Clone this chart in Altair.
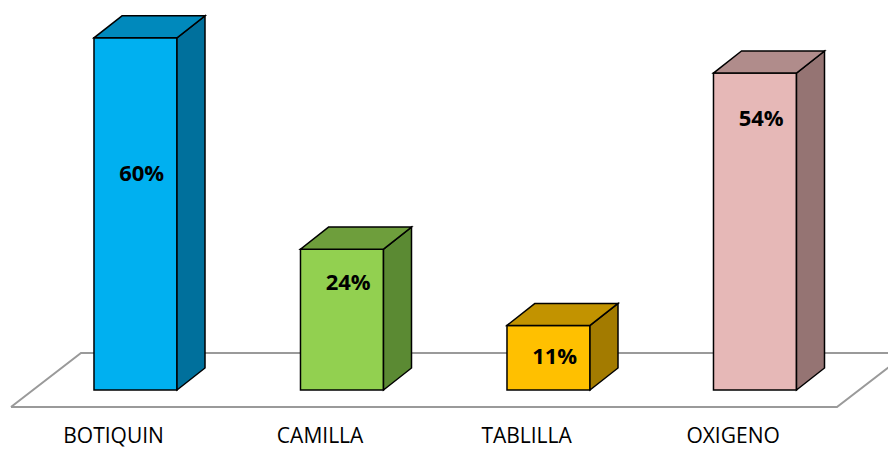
import altair as alt
import pandas as pd

categories = ["BOTIQUIN", "CAMILLA", "TABLILLA", "OXIGENO"]
values = [60, 24, 11, 54]
label_at = [36.8, 18.2, 5.6, 46.2]

front_colors = ["#00B0F0", "#92D050", "#FFC000", "#E6B8B7"]
side_colors = ["#00709C", "#5B8A33", "#A37B00", "#957473"]
top_colors = ["#0089BC", "#6E9E3C", "#C29300", "#B08C8B"]

W = 0.402   # front width (category units)
DX = 0.1356  # depth x
DY = 3.75    # depth y (value units)

front = pd.DataFrame({
    "cat": categories,
    "x": [i - W / 2 for i in range(4)],
    "x2": [i + W / 2 for i in range(4)],
    "y": [0] * 4,
    "y2": values,
})

side_rows, top_rows = [], []
for i, (c, v) in enumerate(zip(categories, values)):
    for t in (0, 1):
        side_rows.append({"cat": c, "x": i + W / 2 + t * DX, "lo": t * DY, "hi": v + t * DY})
        top_rows.append({"cat": c, "y": v + t * DY, "xl": i - W / 2 + t * DX, "xr": i + W / 2 + t * DX})
side = pd.DataFrame(side_rows)
top = pd.DataFrame(top_rows)

labels = pd.DataFrame({
    "cat": categories,
    "x": [i + 0.03 for i in range(4)],
    "y": label_at,
    "txt": [f"{v}%" for v in values],
})
cat_labels = pd.DataFrame({
    "cat": categories,
    "x": [i - 0.106 for i in range(4)],
    "y": [-8.0] * 4,
})
floor = pd.DataFrame({
    "x": [-0.603, -0.264, 3.736, 3.397, -0.603],
    "y": [-2.9, 6.3, 6.3, -2.9, -2.9],
    "o": [0, 1, 2, 3, 4],
})

xs = alt.Scale(domain=[-0.6174, 3.6441], nice=False, zero=False)
ys = alt.Scale(domain=[-8.688, 65.08], nice=False, zero=False)

def col(rng):
    return alt.Color("cat:N", scale=alt.Scale(domain=categories, range=rng), legend=None)

floor_l = alt.Chart(floor).mark_line(color="#9A9A9A", strokeWidth=2, clip=False).encode(
    x=alt.X("x:Q", scale=xs, axis=None),
    y=alt.Y("y:Q", scale=ys, axis=None),
    order="o:Q",
)

front_l = alt.Chart(front).mark_rect(stroke="black", strokeWidth=1.5).encode(
    x=alt.X("x:Q", scale=xs, axis=None), x2="x2:Q",
    y=alt.Y("y:Q", scale=ys, axis=None), y2="y2:Q",
    color=col(front_colors),
)

side_l = alt.Chart(side).mark_area(stroke="black", strokeWidth=1.5, opacity=1, orient="vertical").encode(
    x=alt.X("x:Q", scale=xs, axis=None),
    y=alt.Y("lo:Q", scale=ys, axis=None), y2="hi:Q",
    color=col(side_colors),
    detail="cat:N",
)

top_l = alt.Chart(top).mark_area(stroke="black", strokeWidth=1.5, opacity=1, orient="horizontal").encode(
    y=alt.Y("y:Q", scale=ys, axis=None),
    x=alt.X("xl:Q", scale=xs, axis=None), x2="xr:Q",
    color=col(top_colors),
    detail="cat:N",
)

text_l = alt.Chart(labels).mark_text(
    font="Open Sans", fontWeight="bold", fontSize=22, color="black", baseline="middle", align="center"
).encode(
    x=alt.X("x:Q", scale=xs, axis=None),
    y=alt.Y("y:Q", scale=ys, axis=None),
    text="txt:N",
)

cat_l = alt.Chart(cat_labels).mark_text(
    font="Open Sans", fontSize=21, color="black", baseline="middle", align="center"
).encode(
    x=alt.X("x:Q", scale=xs, axis=None),
    y=alt.Y("y:Q", scale=ys, axis=None),
    text="cat:N",
)

chart = alt.layer(floor_l, front_l, side_l, top_l, text_l, cat_l).resolve_scale(color="independent").properties(
    width=880, height=433, autosize=alt.AutoSizeParams(type="none"),
    padding={"left": 0, "top": 0, "right": 0, "bottom": 8},
).configure_view(stroke=None)

chart.save("out.html", embed_options={"renderer": "svg", "actions": False})
